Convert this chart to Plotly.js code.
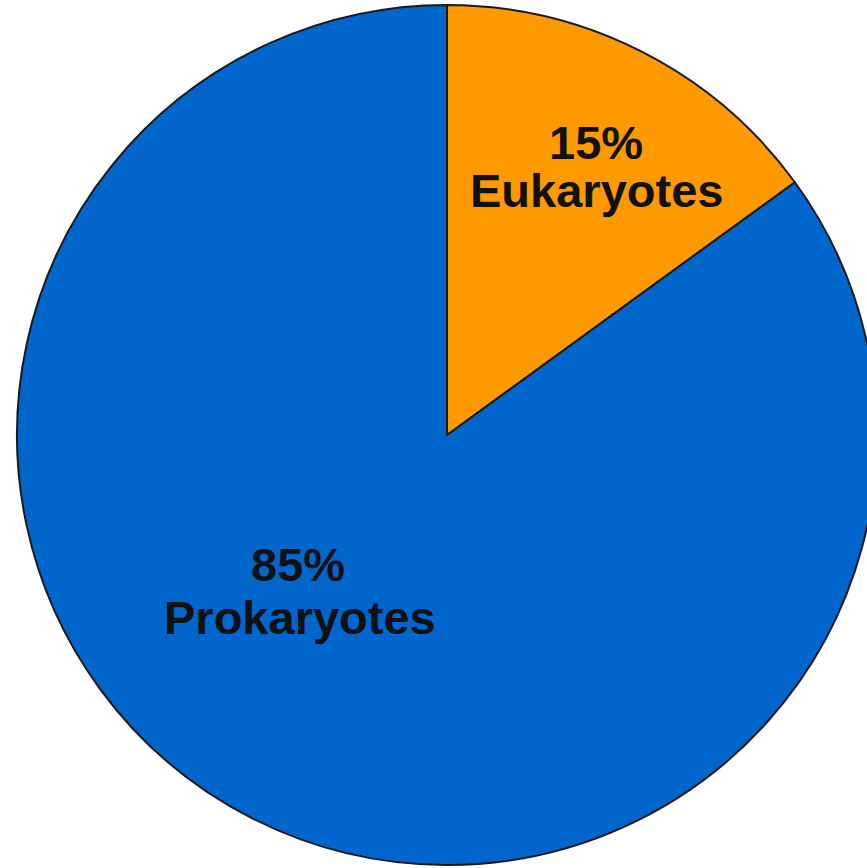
<!DOCTYPE html>
<html>
<head>
<meta charset="utf-8">
<script src="https://cdn.plot.ly/plotly-3.0.1.min.js"></script>
<style>
html,body{margin:0;padding:0;overflow:hidden;background:#fff;}
#chart{width:894px;height:868px;}
</style>
</head>
<body>
<div id="chart"></div>
<script>
const labels = ["Eukaryotes", "Prokaryotes"];
const values = [15, 85];
const colors = ["#FF9900", "#0066CC"];

// label positions (pixel centers) for percent line and name line
const W = 894, H = 868, MT = 5, MB = 3;
const PH = H - MT - MB;
const labelPos = [
  {pct: [596, 142], name: [596, 191]},
  {pct: [298, 564], name: [300, 617]}
];

const total = values.reduce((a, b) => a + b, 0);
const fontSpec = {family: "Liberation Sans, Arial, sans-serif", size: 47, color: "#111111"};
const annotations = [];
labels.forEach((lab, i) => {
  const pct = Math.round(values[i] / total * 100) + "%";
  const p = labelPos[i];
  annotations.push({text: "<b>" + pct + "</b>", x: p.pct[0] / W, y: 1 - (p.pct[1] - MT) / PH,
    xref: "paper", yref: "paper", showarrow: false, xanchor: "center", yanchor: "middle", font: fontSpec});
  annotations.push({text: "<b>" + lab + "</b>", x: p.name[0] / W, y: 1 - (p.name[1] - MT) / PH,
    xref: "paper", yref: "paper", showarrow: false, xanchor: "center", yanchor: "middle", font: fontSpec});
});

Plotly.newPlot("chart", [{
  type: "pie",
  labels: labels,
  values: values,
  sort: false,
  direction: "clockwise",
  rotation: 0,
  textinfo: "none",
  hoverinfo: "label+percent",
  marker: {colors: colors, line: {color: "#1a1a1a", width: 2}}
}], {
  width: W, height: H,
  margin: {l: 0, r: 0, t: MT, b: MB},
  showlegend: false,
  paper_bgcolor: "#ffffff",
  annotations: annotations
}, {displayModeBar: false, staticPlot: true});
</script>
</body>
</html>
